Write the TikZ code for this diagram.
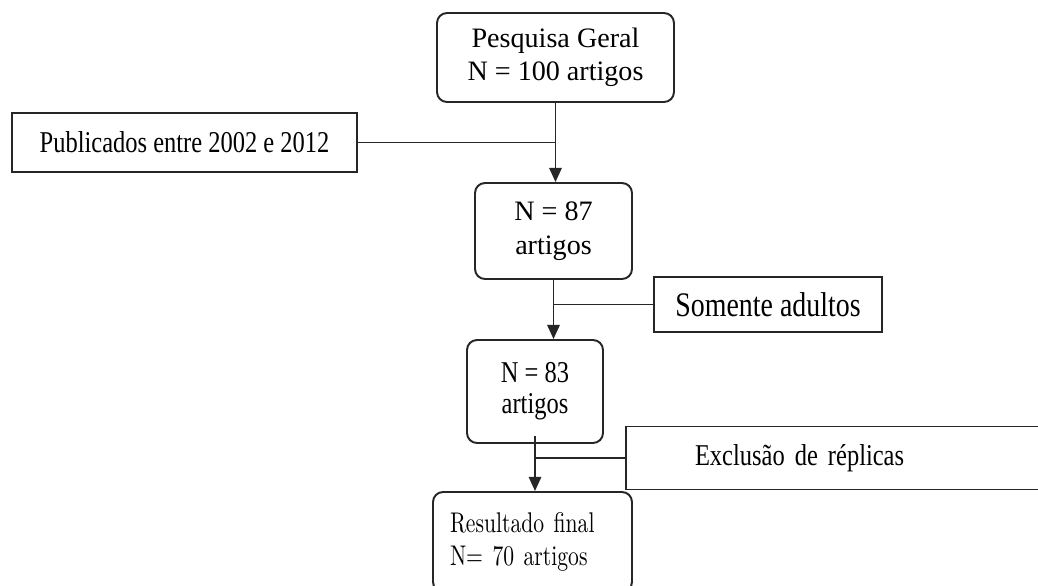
\documentclass[tikz,border=0pt]{standalone}
\usepackage{fontspec}
\setmainfont{Liberation Serif}
\newfontfamily\tallfont{Liberation Serif}[FakeStretch=0.81]
\newfontfamily\finalfont{lmroman10-regular}[Extension=.otf, FakeStretch=0.76]
\usepackage{tikz}
\usetikzlibrary{arrows.meta}

\tikzset{
    rbox/.style={draw=black!85, line width=1.1pt, rounded corners=0.2cm, align=center,
        font=\tallfont\fontsize{17.2}{17.6}\selectfont, inner sep=0pt},
    sbox/.style={draw=black!85, line width=1.1pt, align=center,
        font=\tallfont\fontsize{17.2}{17.6}\selectfont, inner sep=0pt},
    bigtext/.style={font=\fontsize{16}{19}\selectfont},
    flow/.style={draw=black!85, line width=1.1pt, -{Triangle[length=8pt,width=7pt]}},
    sideline/.style={draw=black!85, line width=1.1pt},
}

\begin{document}
\begin{tikzpicture}[x=0.02cm, y=-0.02cm]
    \clip (0,0) rectangle (1038,585);
    \fill[white] (0,0) rectangle (1038,585);

    % main column
    \node[rbox, bigtext, minimum width=4.74cm, minimum height=1.78cm] (geral) at (555.5,57.5)
        {Pesquisa Geral\\N = 100 artigos};
    \node[rbox, bigtext, minimum width=3.14cm, minimum height=1.92cm] (n87) at (553.5,231)
        {N = 87\\artigos};
    \node[rbox, minimum width=2.72cm, minimum height=2.06cm] (n83) at (535,391.5)
        {N = 83\\artigos};
    \node[rbox, minimum height=2cm, text width=3.3cm, inner xsep=0.34cm, align=left,
        font=\finalfont\fontsize{16.2}{18.8}\selectfont] (final) at (532.5,542)
        {Resultado final\\N= 70 artigos};

    % filters
    \node[sbox, minimum width=6.9cm, minimum height=1.18cm] (pub) at (184.5,142.5)
        {Publicados entre 2002 e 2012};
    \node[sbox, font=\tallfont\fontsize{19.6}{20}\selectfont, minimum width=4.56cm,
        minimum height=1.1cm] (adultos) at (768,304.5) {Somente adultos};
    \node[sbox, minimum height=1.26cm, text width=5.64cm, inner xsep=1.38cm, align=left]
        (replicas) at (836,458) {Exclusão de réplicas};

    \draw[flow] (geral.south) -- (geral.south |- n87.north);
    \draw[flow] (n87.south) -- (n87.south |- n83.north);
    \draw[flow] ([yshift=0.16cm]n83.south) -- (n83.south |- final.north);

    \draw[sideline] (pub.east) -- (pub.east -| geral.south);
    \draw[sideline] (adultos.west) -- (adultos.west -| n87.south);
    \draw[sideline] (replicas.west) -- (replicas.west -| n83.south);
\end{tikzpicture}
\end{document}
